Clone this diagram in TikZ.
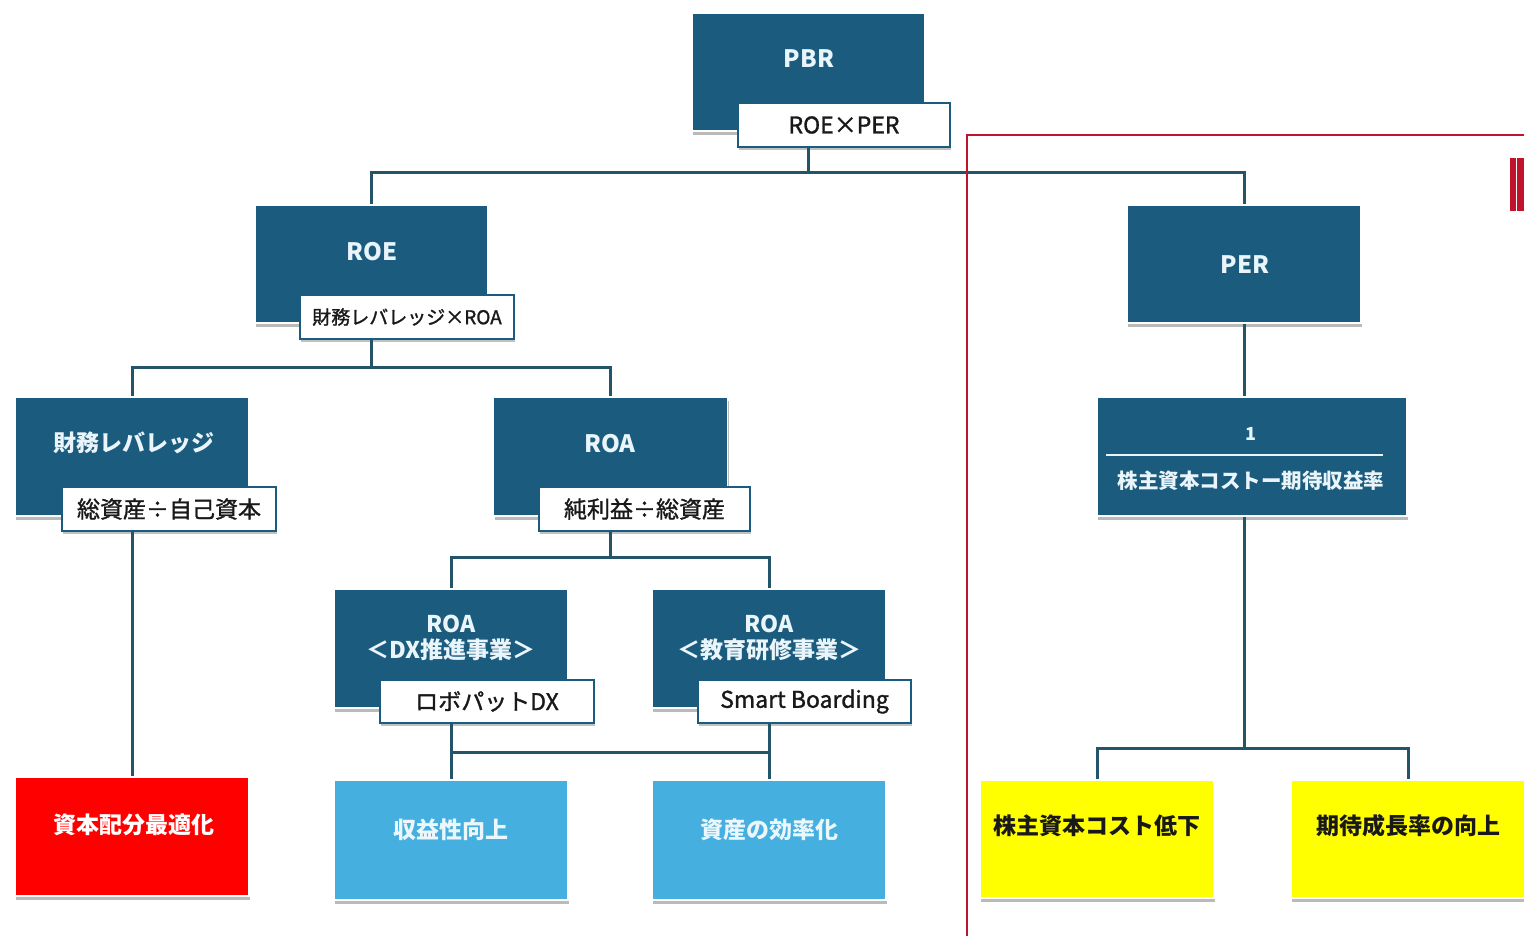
\documentclass[tikz,border=0pt]{standalone}
\usepackage{fontspec}
\setmainfont{Noto Sans CJK JP}
\newfontfamily\medfont{Noto Sans CJK JP}[FakeBold=1.3]
\usetikzlibrary{shadows}
\definecolor{dk}{HTML}{1B5B7D}
\definecolor{ln}{HTML}{24546A}
\definecolor{lb}{HTML}{45AFE0}
\definecolor{rd}{HTML}{FF0000}
\definecolor{yl}{HTML}{FFFF00}
\definecolor{frm}{HTML}{C0142C}
\definecolor{wt}{HTML}{E9F5FB}
\begin{document}
\begin{tikzpicture}[x=1pt,y=-1pt,
  box/.style={rectangle, draw=white, line width=1.2pt, minimum width=234pt, minimum height=119pt, inner sep=0pt,
    drop shadow={shadow xshift=1pt, shadow yshift=-4pt, opacity=0.45, fill=black!60}},
  darkbox/.style={box, fill=dk},
  subbox/.style={rectangle, draw=dk, line width=2pt, fill=white, minimum width=213pt, minimum height=44pt, inner sep=0pt,
    font=\medfont\fontsize{23}{27}\selectfont, text=black!90,
    drop shadow={shadow xshift=1pt, shadow yshift=-3pt, opacity=0.4, fill=black!60}},
  wtxt/.style={text=wt, font=\fontsize{23}{28}\selectfont\bfseries, align=center, inner sep=0pt},
  btxt/.style={text=black!90, font=\fontsize{23}{28}\selectfont\bfseries, align=center, inner sep=0pt},
  conn/.style={draw=ln, line width=3pt}]
\useasboundingbox (0,0) rectangle (1524,936);
\fill[white] (0,0) rectangle (1524,936);

% junction coordinates
\coordinate (j1) at (808.5,173);
\coordinate (j2) at (371.5,367);
\coordinate (j3) at (610.5,557);
\coordinate (j4) at (610,752);
\coordinate (j5) at (1244,748);

% boxes
\node[darkbox, minimum width=233pt, minimum height=118pt] (pbr) at (808.5,72) {};
\node[darkbox, minimum width=233pt, minimum height=118pt] (roe) at (371.5,264) {};
\node[darkbox] (lev) at (132,456.5) {};
\node[darkbox] (roa) at (610.5,456.5) {};
\node[darkbox] (dx) at (451,648.5) {};
\node[darkbox] (ed) at (769,648.5) {};
\node[darkbox, minimum height=118pt] (per) at (1244,264) {};
\node[darkbox, minimum width=310pt] (frac) at (1252,456.5) {};
\node[box, fill=rd] (cap) at (132,836.5) {};
\node[box, fill=lb, minimum height=120pt] (prof) at (451,840) {};
\node[box, fill=lb, minimum height=120pt] (eff) at (769,840) {};
\node[box, fill=yl, minimum height=118pt] (y1) at (1097,839) {};
\node[box, fill=yl, minimum height=118pt] (y2) at (1408,839) {};

% sub boxes
\node[subbox, minimum width=212pt] (pbrs) at (844,125) {ROE×PER};
\node[subbox, minimum width=214pt, font=\medfont\fontsize{19}{23}\selectfont] (roes) at (407,317) {財務レバレッジ×ROA};
\node[subbox, minimum width=214pt] (levs) at (169,509) {総資産÷自己資本};
\node[subbox, minimum width=211pt] (roas) at (644.5,509) {純利益÷総資産};
\node[subbox, minimum width=214pt, minimum height=43pt] (dxs) at (487,701.5) {ロボパットDX};
\node[subbox, minimum width=213pt, minimum height=43pt] (eds) at (804.5,701.5) {Smart Boarding};

% connectors
\draw[conn] (pbr |- pbrs.south) -- (j1);
\draw[conn] (roe.north) |- (j1) -| (per.north);
\draw[conn] (roe |- roes.south) -- (j2);
\draw[conn] (lev.north) |- (j2) -| (roa.north);
\draw[conn] (lev |- levs.south) -- (cap.north);
\draw[conn] (roa |- roas.south) -- (j3);
\draw[conn] (dx.north) |- (j3) -| (ed.north);
\draw[conn] (dx |- dxs.south) -- (prof.north);
\draw[conn] (ed |- eds.south) -- (eff.north);
\draw[conn] (dx |- j4) -- (ed |- j4);
\draw[conn] (per.south) -- (per |- frac.north);
\draw[conn] (per |- frac.south) -- (j5);
\draw[conn] (y1.north) |- (j5) -| (y2.north);

% texts
\node[wtxt, font=\fontsize{24}{28}\selectfont\bfseries] (tpbr) at (809,59) {PBR};
\node[wtxt, font=\fontsize{24}{28}\selectfont\bfseries] (troe) at (372,252) {ROE};
\node[wtxt] (tlev) at (134,443) {財務レバレッジ};
\node[wtxt, font=\fontsize{24}{28}\selectfont\bfseries] (troa) at (610,444) {ROA};
\node[wtxt, font=\fontsize{23}{26}\selectfont\bfseries] (tdx) at (451,638) {ROA\\＜DX推進事業＞};
\node[wtxt, font=\fontsize{23}{26}\selectfont\bfseries] (ted) at (769,638) {ROA\\＜教育研修事業＞};
\node[wtxt, font=\fontsize{24}{28}\selectfont\bfseries] (tper) at (1245,265) {PER};
\node[wtxt, font=\fontsize{18}{22}\selectfont\bfseries] (tone) at (1251,434) {1};
\draw[wt, line width=2.5pt] (1106,455) -- (1383,455);
\node[wtxt, font=\fontsize{20.5}{24}\selectfont\bfseries] (tden) at (1251,481) {株主資本コストー期待収益率};
\node[wtxt, text=white] (tcap) at (134,825) {資本配分最適化};
\node[wtxt, text=white!90!lb] (tprof) at (451,830) {収益性向上};
\node[wtxt, text=white!90!lb] (teff) at (769,830) {資産の効率化};
\node[btxt] (ty1) at (1097,826) {株主資本コスト低下};
\node[btxt] (ty2) at (1408,826) {期待成長率の向上};

% red frame
\draw[frm, line width=1.5pt] (967,936) -- (967,135) -- (1524,135);
\fill[frm] (1510,158) rectangle (1515.5,211);
\fill[frm] (1517,158) rectangle (1524,211);
\end{tikzpicture}
\end{document}
